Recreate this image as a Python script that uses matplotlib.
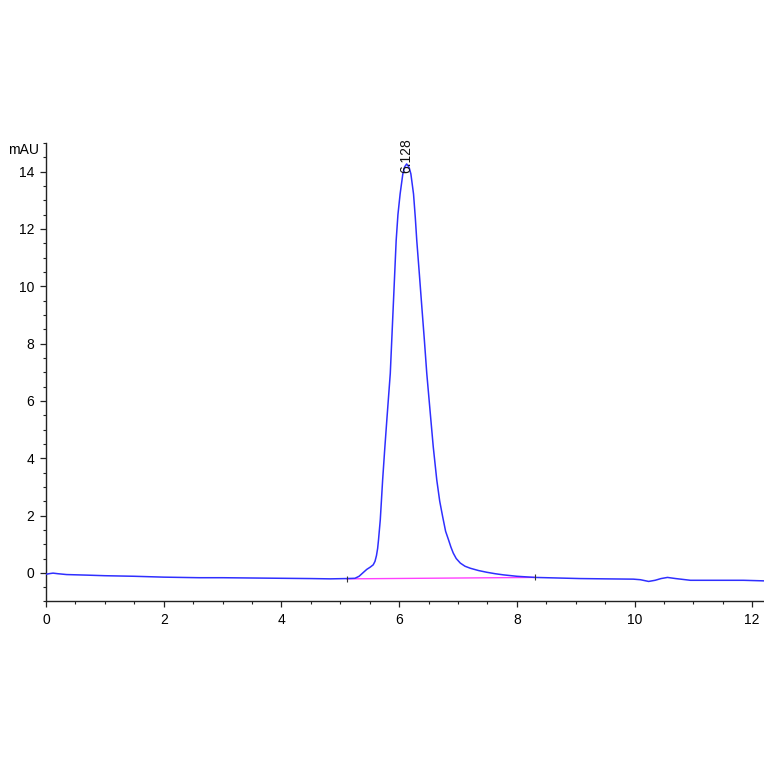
import matplotlib
matplotlib.use("Agg")
import matplotlib.pyplot as plt
from matplotlib.ticker import MultipleLocator

# Retention time (min) and absorbance (mAU)
time_min = [0.0, 0.05, 0.12, 0.2, 0.35, 0.7, 1.0, 1.5, 2.0, 2.6, 3.0, 3.5, 4.0, 4.5,
            4.83, 5.1, 5.25, 5.32, 5.39, 5.45, 5.51, 5.56, 5.59, 5.615, 5.635, 5.65,
            5.68, 5.70, 5.72, 5.755, 5.795, 5.85, 5.90, 5.95, 5.98, 6.017, 6.063,
            6.095, 6.128, 6.17, 6.20, 6.245, 6.275, 6.30, 6.345, 6.386, 6.43, 6.47,
            6.53, 6.58, 6.64, 6.69, 6.74, 6.79, 6.84, 6.88, 6.92, 6.97, 7.04, 7.12,
            7.21, 7.35, 7.49, 7.63, 7.77, 8.0, 8.31, 8.7, 9.08, 9.5, 9.98, 10.1,
            10.24, 10.35, 10.45, 10.56, 10.7, 10.95, 11.4, 11.85, 12.2]
signal_mau = [-0.05, -0.03, -0.01, -0.03, -0.06, -0.08, -0.10, -0.12, -0.15, -0.17,
              -0.17, -0.18, -0.19, -0.20, -0.21, -0.20, -0.19, -0.12, 0.01, 0.12, 0.20,
              0.28, 0.40, 0.60, 0.85, 1.15, 1.85, 2.54, 3.24, 4.3, 5.44, 6.96, 9.28,
              11.6, 12.5, 13.22, 13.92, 14.17, 14.27, 14.15, 13.92, 13.22, 12.4, 11.6,
              10.4, 9.28, 8.1, 6.96, 5.56, 4.40, 3.24, 2.5, 1.96, 1.45, 1.15, 0.90,
              0.69, 0.50, 0.34, 0.23, 0.16, 0.08, 0.02, -0.03, -0.07, -0.12, -0.16,
              -0.18, -0.20, -0.21, -0.22, -0.24, -0.30, -0.26, -0.20, -0.16, -0.20,
              -0.26, -0.26, -0.26, -0.28]

# Integration baseline of the peak
baseline_t = [5.11, 8.31]
baseline_v = [-0.21, -0.16]

peak_rt = 6.128
peak_label = "6.128"

x_ticks = [0, 2, 4, 6, 8, 10, 12]
y_ticks = [0, 2, 4, 6, 8, 10, 12, 14]

plt.rcParams['font.family'] = ['Liberation Sans', 'DejaVu Sans']

fig = plt.figure(figsize=(7.64, 7.64), dpi=100)
ax = fig.add_axes([0.0602, 0.2127, 0.9398, 0.6001])

ax.plot(time_min, signal_mau, color='#2f2fff', lw=1.1, zorder=3)
ax.plot(baseline_t, baseline_v, color='#ff40ff', lw=1.0, zorder=2)
ax.plot(baseline_t, baseline_v, linestyle='none', marker='|', markersize=4,
        color='#333333', markeredgewidth=0.8, zorder=4)

ax.text(peak_rt, 13.95, peak_label, rotation=90, ha='center', va='bottom',
        fontsize=10, color='#111111')

ax.set_xlim(0, 12.2)
ax.set_ylim(-1, 15)
ax.set_xticks(x_ticks)
ax.set_yticks(y_ticks)
ax.xaxis.set_minor_locator(MultipleLocator(0.5))
ax.yaxis.set_minor_locator(MultipleLocator(0.5))

for s in ['top', 'right']:
    ax.spines[s].set_visible(False)
for s in ['left', 'bottom']:
    ax.spines[s].set_linewidth(1.0)
    ax.spines[s].set_color('#222222')

ax.tick_params(which='major', length=4.5, width=0.9, labelsize=10, pad=4,
               color='#222222')
ax.tick_params(which='minor', length=2.5, width=0.8, color='#222222')

fig.text(8 / 764, 1 - 150 / 764, "mAU", fontsize=10, ha='left', va='center')

fig.savefig("out.png", dpi=100, facecolor='white')
